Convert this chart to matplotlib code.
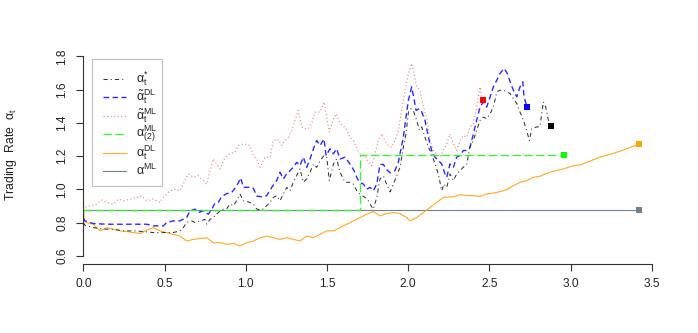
import matplotlib
matplotlib.use("Agg")
import matplotlib.pyplot as plt
from matplotlib.lines import Line2D
from matplotlib.patches import Rectangle

plt.rcParams['font.family'] = ['Liberation Sans', 'DejaVu Sans']
plt.rcParams['mathtext.fontset'] = 'custom'
plt.rcParams['mathtext.rm'] = 'Liberation Sans'
plt.rcParams['mathtext.it'] = 'Liberation Sans:italic'
plt.rcParams['mathtext.bf'] = 'Liberation Sans:bold'
plt.rcParams['mathtext.default'] = 'rm'

# ---------------- data ----------------
# alpha*_t (black dot-dash)
t_star = [0.0, 0.010, 0.062, 0.123, 0.185, 0.246, 0.308, 0.370, 0.431, 0.493, 0.554, 0.595,
          0.616, 0.636, 0.667, 0.688, 0.719, 0.749, 0.760, 0.780, 0.801, 0.821, 0.842, 0.862,
          0.883, 0.903, 0.924, 0.944, 0.965, 0.985, 1.006, 1.026, 1.047, 1.068, 1.098, 1.129,
          1.150, 1.170, 1.191, 1.211, 1.232, 1.252, 1.273, 1.293, 1.314, 1.334, 1.355, 1.375,
          1.396, 1.417, 1.437, 1.458, 1.482, 1.499, 1.515, 1.540, 1.560, 1.581, 1.612, 1.642,
          1.663, 1.684, 1.704, 1.735, 1.755, 1.776, 1.786, 1.807, 1.827, 1.848, 1.868, 1.889,
          1.909, 1.930, 1.950, 1.971, 1.987, 2.002, 2.016, 2.032, 2.053, 2.069, 2.084, 2.104,
          2.125, 2.145, 2.166, 2.186, 2.207, 2.221, 2.238, 2.258, 2.279, 2.299, 2.320, 2.340,
          2.361, 2.381, 2.402, 2.422, 2.443, 2.463, 2.484, 2.505, 2.525, 2.546, 2.566, 2.587,
          2.607, 2.628, 2.648, 2.669, 2.689, 2.710, 2.730, 2.747, 2.761, 2.792, 2.812, 2.833,
          2.847, 2.864, 2.880]
a_star = [0.800, 0.785, 0.771, 0.761, 0.761, 0.751, 0.751, 0.747, 0.741, 0.741, 0.741, 0.751,
          0.771, 0.801, 0.811, 0.801, 0.811, 0.820, 0.791, 0.820, 0.830, 0.851, 0.871, 0.882,
          0.884, 0.912, 0.902, 0.932, 0.972, 0.932, 0.928, 0.922, 0.912, 0.882, 0.876, 0.902,
          0.922, 0.952, 0.962, 0.932, 0.972, 1.012, 0.992, 1.043, 1.083, 1.123, 1.043, 1.063,
          1.103, 1.153, 1.133, 1.173, 1.204, 1.193, 1.053, 1.153, 1.183, 1.103, 1.043, 1.043,
          1.032, 0.992, 0.972, 0.952, 0.932, 0.896, 0.882, 0.952, 1.063, 1.080, 1.030, 0.985,
          1.032, 1.083, 1.133, 1.254, 1.334, 1.465, 1.485, 1.475, 1.415, 1.355, 1.375, 1.314,
          1.254, 1.214, 1.153, 1.093, 0.992, 1.032, 1.012, 1.093, 1.053, 1.093, 1.113, 1.133,
          1.153, 1.254, 1.294, 1.354, 1.415, 1.435, 1.425, 1.455, 1.495, 1.586, 1.596, 1.596,
          1.586, 1.576, 1.546, 1.516, 1.465, 1.415, 1.354, 1.294, 1.365, 1.375, 1.379, 1.526,
          1.496, 1.415, 1.379]

# tilde alpha^DL_t (blue dashed)
t_dl_tilde = [0.0, 0.010, 0.062, 0.144, 0.226, 0.308, 0.390, 0.431, 0.493, 0.513, 0.554, 0.595,
              0.636, 0.657, 0.688, 0.708, 0.739, 0.770, 0.790, 0.811, 0.831, 0.852, 0.883, 0.914,
              0.934, 0.955, 0.969, 0.986, 1.027, 1.047, 1.068, 1.098, 1.129, 1.160, 1.191, 1.211,
              1.232, 1.252, 1.273, 1.293, 1.314, 1.334, 1.355, 1.376, 1.396, 1.417, 1.437, 1.458,
              1.482, 1.495, 1.519, 1.540, 1.560, 1.581, 1.612, 1.642, 1.667, 1.684, 1.700, 1.725,
              1.745, 1.766, 1.786, 1.807, 1.827, 1.848, 1.868, 1.889, 1.919, 1.940, 1.954, 1.971,
              1.987, 2.002, 2.022, 2.032, 2.049, 2.069, 2.084, 2.104, 2.125, 2.145, 2.166, 2.186,
              2.207, 2.227, 2.238, 2.258, 2.279, 2.299, 2.320, 2.340, 2.361, 2.381, 2.402, 2.422,
              2.443, 2.463, 2.484, 2.505, 2.525, 2.546, 2.566, 2.591, 2.611, 2.632, 2.648, 2.669,
              2.689, 2.706, 2.714, 2.732]
a_dl_tilde = [0.830, 0.811, 0.795, 0.791, 0.791, 0.791, 0.791, 0.781, 0.781, 0.801, 0.811, 0.811,
              0.831, 0.871, 0.882, 0.861, 0.872, 0.851, 0.880, 0.917, 0.922, 0.957, 0.975, 0.982,
              1.007, 1.040, 1.069, 1.012, 1.014, 1.007, 0.960, 0.956, 0.962, 1.012, 1.053, 1.103,
              1.063, 1.093, 1.113, 1.133, 1.163, 1.143, 1.194, 1.133, 1.183, 1.244, 1.294, 1.264,
              1.304, 1.203, 1.244, 1.214, 1.244, 1.183, 1.194, 1.153, 1.113, 1.073, 1.043, 1.032,
              1.002, 1.012, 0.992, 1.032, 1.150, 1.150, 1.120, 1.100, 1.113, 1.163, 1.234, 1.314,
              1.435, 1.536, 1.616, 1.566, 1.475, 1.485, 1.465, 1.415, 1.314, 1.234, 1.194, 1.173,
              1.153, 1.093, 1.073, 1.153, 1.133, 1.194, 1.204, 1.234, 1.234, 1.254, 1.334, 1.415,
              1.495, 1.526, 1.495, 1.556, 1.616, 1.656, 1.697, 1.727, 1.697, 1.636, 1.596, 1.556,
              1.616, 1.646, 1.556, 1.496]

# tilde alpha^ML_t (pink dotted)
t_ml_tilde = [0.0, 0.004, 0.041, 0.082, 0.113, 0.144, 0.185, 0.216, 0.246, 0.288, 0.329, 0.359,
              0.390, 0.431, 0.472, 0.493, 0.523, 0.554, 0.595, 0.626, 0.647, 0.677, 0.708, 0.739,
              0.760, 0.780, 0.801, 0.821, 0.842, 0.873, 0.903, 0.934, 0.955, 0.986, 1.027, 1.047,
              1.068, 1.088, 1.119, 1.150, 1.170, 1.195, 1.222, 1.242, 1.263, 1.283, 1.304, 1.324,
              1.345, 1.365, 1.386, 1.406, 1.427, 1.458, 1.482, 1.499, 1.515, 1.536, 1.556, 1.581,
              1.612, 1.642, 1.663, 1.684, 1.704, 1.735, 1.755, 1.776, 1.796, 1.817, 1.838, 1.858,
              1.879, 1.899, 1.919, 1.940, 1.960, 1.981, 2.002, 2.022, 2.032, 2.053, 2.073, 2.094,
              2.114, 2.135, 2.155, 2.176, 2.197, 2.217, 2.238, 2.258, 2.279, 2.299, 2.320, 2.340,
              2.361, 2.381, 2.402, 2.422, 2.443, 2.453, 2.460]
a_ml_tilde = [0.880, 0.892, 0.902, 0.912, 0.936, 0.922, 0.912, 0.942, 0.932, 0.942, 0.952, 0.962,
              0.932, 0.942, 0.922, 0.952, 0.982, 1.002, 0.992, 1.053, 1.093, 1.073, 1.083, 1.053,
              1.032, 1.113, 1.183, 1.153, 1.123, 1.193, 1.214, 1.224, 1.264, 1.274, 1.264, 1.204,
              1.183, 1.133, 1.193, 1.193, 1.294, 1.304, 1.264, 1.294, 1.314, 1.354, 1.415, 1.475,
              1.375, 1.365, 1.365, 1.395, 1.465, 1.465, 1.526, 1.435, 1.344, 1.415, 1.455, 1.395,
              1.375, 1.314, 1.294, 1.244, 1.214, 1.204, 1.163, 1.143, 1.214, 1.294, 1.334, 1.290,
              1.264, 1.254, 1.294, 1.350, 1.475, 1.596, 1.697, 1.757, 1.717, 1.616, 1.596, 1.495,
              1.435, 1.294, 1.234, 1.214, 1.194, 1.234, 1.274, 1.334, 1.274, 1.234, 1.294, 1.324,
              1.314, 1.375, 1.395, 1.495, 1.616, 1.560, 1.536]

# alpha^ML_(2) (green dashed step)
t_ml2 = [0.0, 1.704, 2.962]
a_ml2 = [0.876, 1.204, 1.204]

# alpha^DL_t (orange solid)
t_dl = [0.0, 0.005, 0.020, 0.062, 0.103, 0.144, 0.185, 0.226, 0.267, 0.308, 0.349, 0.390,
        0.431, 0.472, 0.513, 0.554, 0.595, 0.636, 0.678, 0.719, 0.760, 0.801, 0.842, 0.883,
        0.924, 0.965, 1.006, 1.047, 1.088, 1.129, 1.170, 1.211, 1.252, 1.293, 1.334, 1.376,
        1.417, 1.458, 1.499, 1.540, 1.581, 1.622, 1.663, 1.704, 1.745, 1.786, 1.827, 1.868,
        1.909, 1.950, 1.991, 2.012, 2.053, 2.094, 2.135, 2.176, 2.217, 2.279, 2.320, 2.402,
        2.443, 2.484, 2.546, 2.607, 2.648, 2.689, 2.730, 2.771, 2.812, 2.854, 2.895, 2.956,
        3.018, 3.059, 3.120, 3.180, 3.240, 3.300, 3.360, 3.420]
a_dl = [0.930, 0.810, 0.801, 0.791, 0.751, 0.771, 0.761, 0.751, 0.747, 0.741, 0.735, 0.755,
        0.771, 0.751, 0.741, 0.730, 0.720, 0.690, 0.700, 0.705, 0.710, 0.680, 0.680, 0.670,
        0.676, 0.660, 0.680, 0.690, 0.710, 0.720, 0.710, 0.700, 0.710, 0.700, 0.690, 0.720,
        0.710, 0.730, 0.751, 0.751, 0.771, 0.791, 0.811, 0.831, 0.851, 0.867, 0.841, 0.855,
        0.861, 0.855, 0.831, 0.811, 0.831, 0.861, 0.891, 0.922, 0.952, 0.956, 0.968, 0.962,
        0.958, 0.972, 0.982, 0.998, 1.022, 1.043, 1.053, 1.073, 1.079, 1.097, 1.109, 1.123,
        1.143, 1.147, 1.170, 1.194, 1.210, 1.228, 1.250, 1.270]

# alpha^ML (slate gray constant)
t_ml = [0.0, 3.42]
a_ml = [0.876, 0.876]

labels = [r'$\alpha_{\mathrm{t}}^{*}$', r'$\tilde{\alpha}_{\mathrm{t}}^{\mathrm{DL}}$',
          r'$\tilde{\alpha}_{\mathrm{t}}^{\mathrm{ML}}$', r'$\alpha_{(2)}^{\mathrm{ML}}$',
          r'$\alpha_{\mathrm{t}}^{\mathrm{DL}}$', r'$\alpha^{\mathrm{ML}}$']
x_ticks = [0.0, 0.5, 1.0, 1.5, 2.0, 2.5, 3.0, 3.5]
y_ticks = [0.6, 0.8, 1.0, 1.2, 1.4, 1.6, 1.8]

# ---------------- styles ----------------
C_BLACK = '#333333'
C_BLUE = '#2a2aff'
C_PINK = '#f28080'
C_GREEN = '#44e844'
C_ORANGE = '#ffaa2a'
C_GRAY = '#708090'

styles = [
    dict(color=C_BLACK, lw=0.75, ls=(0, (4, 3, 1, 3))),
    dict(color=C_BLUE, lw=1.0, ls=(0, (4, 2.5))),
    dict(color=C_PINK, lw=0.8, ls=(0, (1, 2.2))),
    dict(color=C_GREEN, lw=1.0, ls=(0, (6, 2.5))),
    dict(color=C_ORANGE, lw=0.8, ls='-'),
    dict(color=C_GRAY, lw=0.8, ls='-'),
]

W, H = 698, 333
fig = plt.figure(figsize=(W / 100, H / 100), dpi=100)
left, right, top, bottom = 83.3, 651.7, 48.3, 264.0
ax = fig.add_axes([left / W, 1 - bottom / H, (right - left) / W, (bottom - top) / H])
ax.set_xlim(0, 3.5)
ax.set_ylim(0.552, 1.848)

ax.plot(t_ml, a_ml, **styles[5])
ax.plot(t_dl, a_dl, **styles[4])
ax.plot(t_ml_tilde, a_ml_tilde, **styles[2])
ax.plot(t_dl_tilde, a_dl_tilde, **styles[1])
ax.plot(t_star, a_star, **styles[0])
ax.plot(t_ml2, a_ml2, drawstyle='steps-post', **styles[3])

ms = 5
ax.plot(t_ml_tilde[-1], a_ml_tilde[-1], 's', color='#ff0000', ms=ms, mew=0)
ax.plot(t_dl_tilde[-1], a_dl_tilde[-1], 's', color='#0000ff', ms=ms, mew=0)
ax.plot(t_star[-1], a_star[-1], 's', color='#000000', ms=ms, mew=0)
ax.plot(t_ml2[-1], a_ml2[-1], 's', color='#00ff00', ms=ms, mew=0)
ax.plot(t_dl[-1], a_dl[-1], 's', color='#ffa500', ms=ms, mew=0)
ax.plot(t_ml[-1], a_ml[-1], 's', color=C_GRAY, ms=ms, mew=0)

for s in ['top', 'right']:
    ax.spines[s].set_visible(False)
ax.spines['left'].set_bounds(0.6, 1.8)
ax.spines['bottom'].set_bounds(0.0, 3.5)
for s in ['left', 'bottom']:
    ax.spines[s].set_linewidth(0.8)
    ax.spines[s].set_color('#333333')
ax.set_xticks(x_ticks)
ax.set_xticklabels([f'{v:.1f}' for v in x_ticks])
ax.set_yticks(y_ticks)
ax.set_yticklabels([f'{v:.1f}' for v in y_ticks], rotation=90, va='center')
ax.tick_params(direction='out', length=5, width=0.8, color='#333333',
               labelsize=8.6, labelcolor='#222222')
ax.tick_params(axis='x', pad=5)
ax.tick_params(axis='y', pad=6)

def fx(x):
    return x / W

def fy(y):
    return 1 - y / H

fig.text(fx(11), fy(155), r'Trading  Rate  $\alpha_{\mathrm{t}}$', rotation=90,
         ha='center', va='center', fontsize=8.8, color='#222222')

# legend (R style)
fig.add_artist(Rectangle((fx(92), fy(186)), (162 - 92) / W, (186 - 59) / H,
                         transform=fig.transFigure, fill=False,
                         edgecolor='#bdbdbd', lw=0.8))
rows = [78.5, 97.0, 115.5, 134.0, 152.5, 171.0]
text_shift = [4, 4, 4, 2.5, 4.5, 4]
for i, (lab, st) in enumerate(zip(labels, styles)):
    y = rows[i]
    fig.add_artist(Line2D([fx(103), fx(126)], [fy(y), fy(y)], transform=fig.transFigure,
                          color=st['color'], lw=st['lw'], ls=st['ls']))
    fig.text(fx(136), fy(y + text_shift[i]), lab, ha='left', va='baseline', fontsize=9.0,
             color='#222222')

fig.savefig('out.png', dpi=100)
